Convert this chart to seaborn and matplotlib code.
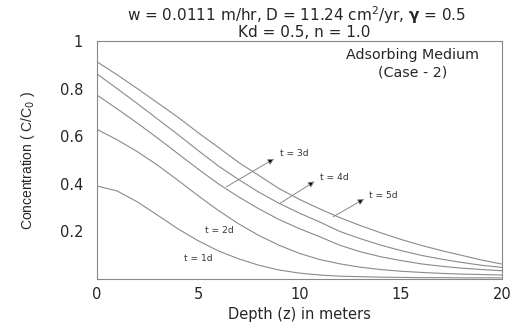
import matplotlib
matplotlib.use("Agg")
import matplotlib.pyplot as plt
import seaborn as sns
import pandas as pd
from matplotlib.ticker import MultipleLocator

# depth (m) and concentration C/C0
depth = list(range(0, 21))
c_1d = [0.391, 0.370, 0.324, 0.268, 0.211, 0.161, 0.118, 0.085, 0.058, 0.038, 0.025,
        0.017, 0.012, 0.010, 0.008, 0.007, 0.006, 0.006, 0.005, 0.005, 0.005]
c_2d = [0.629, 0.585, 0.535, 0.478, 0.415, 0.350, 0.288, 0.232, 0.183, 0.142, 0.108,
        0.082, 0.064, 0.050, 0.040, 0.033, 0.028, 0.024, 0.021, 0.019, 0.017]
c_3d = [0.773, 0.715, 0.655, 0.592, 0.527, 0.462, 0.400, 0.345, 0.295, 0.250, 0.212,
        0.178, 0.142, 0.115, 0.094, 0.078, 0.064, 0.054, 0.046, 0.040, 0.035]
c_4d = [0.862, 0.800, 0.737, 0.672, 0.607, 0.540, 0.475, 0.418, 0.365, 0.318, 0.277,
        0.240, 0.200, 0.170, 0.143, 0.120, 0.100, 0.084, 0.070, 0.058, 0.049]
c_5d = [0.913, 0.858, 0.800, 0.740, 0.680, 0.615, 0.553, 0.490, 0.435, 0.380, 0.335,
        0.295, 0.258, 0.225, 0.195, 0.167, 0.142, 0.120, 0.100, 0.080, 0.063]
times = ["t = 1d", "t = 2d", "t = 3d", "t = 4d", "t = 5d"]
x_ticks = [0, 5, 10, 15, 20]
y_ticks = [0.2, 0.4, 0.6, 0.8, 1.0]
y_ticklabels = ["0.2", "0.4", "0.6", "0.8", "1"]

rows = []
for t, vals in zip(times, [c_1d, c_2d, c_3d, c_4d, c_5d]):
    for z, c in zip(depth, vals):
        rows.append({"depth": z, "conc": c, "time": t})
df = pd.DataFrame(rows)

sns.set_style("white")
plt.rcParams["font.family"] = ["DejaVu Sans"]

fig = plt.figure(figsize=(5.2, 3.26), dpi=100)
ax = fig.add_axes([0.1865, 0.144, 0.7785, 0.730])

sns.lineplot(data=df, x="depth", y="conc", units="time", estimator=None,
             color="#8a8a8a", lw=0.8, ax=ax, legend=False)

ax.set_xlim(0, 20)
ax.set_ylim(0, 1)
ax.set_xticks(x_ticks)
ax.set_xticklabels([str(v) for v in x_ticks])
ax.xaxis.set_minor_locator(MultipleLocator(1))
ax.set_yticks(y_ticks)
ax.set_yticklabels(y_ticklabels)
ax.yaxis.set_minor_locator(MultipleLocator(0.1))
ax.tick_params(which="major", direction="in", length=5, width=0.6, color="#888888",
               labelsize=10.5)
ax.tick_params(which="minor", direction="in", length=3, width=0.6, color="#888888")
ax.tick_params(axis="y", pad=10)
ax.tick_params(axis="x", pad=6)
for s in ax.spines.values():
    s.set_color("#888888")
    s.set_linewidth(0.8)

ax.set_xlabel("Depth (z) in meters", fontsize=10.5, labelpad=3)
ax.set_ylabel("Concentration ( C/C$_0$ )", fontsize=10,
              family=["Liberation Sans Narrow", "Liberation Sans"], labelpad=16)

# first title line is cut off at the top edge in the original
fig.text(0.57, 1.011, "C$_0$ = 1.0, q$_0$ = 0.025 m/hr, $\\mathbf{\\rho}$ = 1.6 g/cc",
         ha="center", va="baseline", fontsize=11)
fig.text(0.57, 0.955, "w = 0.0111 m/hr, D = 11.24 cm$^2$/yr, $\\mathbf{\\gamma}$ = 0.5",
         ha="center", va="center", fontsize=11)
fig.text(0.585, 0.9, "Kd = 0.5, n = 1.0", ha="center", va="center", fontsize=11)

ax.text(15.6, 0.941, "Adsorbing Medium", ha="center", va="center", fontsize=10.3)
ax.text(15.6, 0.866, "(Case - 2)", ha="center", va="center", fontsize=10.3)

arrow = dict(arrowstyle="-|>", ec="#888888", fc="black", lw=0.7,
             mutation_scale=9, shrinkA=0, shrinkB=0)
ax.annotate("", xy=(8.75, 0.505), xytext=(6.4, 0.388), arrowprops=arrow)
ax.annotate("", xy=(10.75, 0.41), xytext=(9.04, 0.318), arrowprops=arrow)
ax.annotate("", xy=(13.2, 0.336), xytext=(11.67, 0.262), arrowprops=arrow)
ax.text(9.05, 0.528, "t = 3d", fontsize=6.6, va="center", color="#333333")
ax.text(11.0, 0.427, "t = 4d", fontsize=6.6, va="center", color="#333333")
ax.text(13.45, 0.352, "t = 5d", fontsize=6.6, va="center", color="#333333")
ax.text(6.05, 0.205, "t = 2d", fontsize=6.6, ha="center", va="center", color="#333333")
ax.text(5.0, 0.087, "t = 1d", fontsize=6.6, ha="center", va="center", color="#333333")

fig.savefig("out.png", dpi=100, facecolor="white")
